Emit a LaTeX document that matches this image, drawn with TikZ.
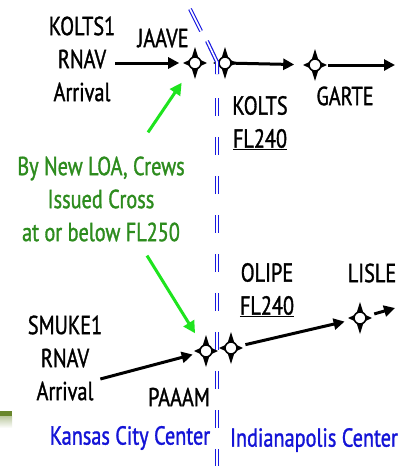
\documentclass[tikz,border=0pt]{standalone}
\usepackage{fontspec}
\setmainfont{PT Sans}[FakeStretch=0.78,FakeBold=1.2]
\usetikzlibrary{arrows.meta}
\definecolor{bndblue}{RGB}{25,25,225}
\definecolor{txtblue}{RGB}{20,20,215}
\definecolor{lgreen}{RGB}{30,228,30}
\definecolor{dgreen}{RGB}{45,140,30}
\definecolor{olivebar}{RGB}{105,135,45}
\tikzset{
  wpstar/.pic={\fill[black] (0,16) -- (3.8,3.8) -- (12,0) -- (3.8,-3.8) -- (0,-16) -- (-3.8,-3.8) -- (-12,0) -- (-3.8,3.8) -- cycle;},
  lbl/.style={font=\fontsize{26}{33}\selectfont, align=center, inner sep=0pt},
  arr/.style={line width=3pt, -{Triangle[length=11pt,width=11pt]}},
  garr/.style={lgreen, line width=3pt, -{Triangle[length=12pt,width=12pt]}},
  wpc/.style={circle, draw, fill=white, line width=1.6pt, minimum size=12pt, inner sep=0pt},
  bnd/.style={bndblue, line width=1.2pt, double=white, double distance=1.6pt}
}
\begin{document}
\begin{tikzpicture}[x=1pt,y=-1pt]
\useasboundingbox (0,0) rectangle (400,466);
\fill[white] (0,0) rectangle (400,466);
% olive decoration
\fill[olivebar] (0,411) rectangle (12,416);
\shade[top color=olivebar!45, bottom color=white] (0,416) rectangle (12,428);

% waypoints
\foreach \n/\p in {jaave/{(195,63)}, kolts/{(225,63)}, garte/{(315,65)}, paaam/{(206,351)}, olipe/{(231,348)}, lisle/{(360,318)}}{
  \pic at \p {wpstar};
  \node[wpc] (\n) at \p {};
}
\coordinate (gend) at (395,65);
\coordinate (lend) at (395,308);

% labels
\node[lbl] (kolts1) at (82,59) {KOLTS1\\RNAV\\Arrival};
\node[lbl] (jaavel) at (163,38) {JAAVE};
\node[lbl] (koltsl) at (260,123) {KOLTS\\\underline{FL240}};
\node[lbl] (gartel) at (345,96) {GARTE};
\node[lbl, text=dgreen] (gtext) at (101,199) {By New LOA, Crews\\Issued Cross\\at or below FL250};
\node[lbl] (smuke) at (65,358) {SMUKE1\\RNAV\\Arrival};
\node[lbl] (paaaml) at (179,397) {PAAAM};
\node[lbl] (olipel) at (267,290) {OLIPE\\\underline{FL240}};
\node[lbl] (islel) at (372,273) {LISLE};
\node[lbl, text=txtblue] (kcc) at (130,438) {Kansas City Center};
\node[lbl, text=txtblue] (ic) at (314,440) {Indianapolis Center};

% routes
\draw[arr, shorten >=9pt] (kolts1.east |- jaave) -- (jaave);
\draw[arr, shorten >=14pt] (kolts) -- (garte);
\draw[arr, shorten <=6pt] (garte) -- (gend);
\draw[arr, shorten >=7pt] ([shift={(-2,21)}]smuke.east) -- (paaam);
\draw[arr, shorten <=8pt, shorten >=9pt] (olipe) -- (lisle);
\draw[arr, shorten <=8pt] (lisle) -- (lend);

% green arrows
\draw[garr, shorten >=17pt] ([shift={(47,-24)}]gtext.north) -- (jaave);
\draw[garr, shorten >=14pt] ([shift={(46,14)}]gtext.south) -- (paaam);

% boundary
\draw[bnd] (190,9) -- (201,31);
\draw[bnd] (207,41) -- (217,62) -- (217,74);
\draw[bnd, dash pattern=on 18pt off 21pt] (217,98) -- (217,466);
\end{tikzpicture}
\end{document}
